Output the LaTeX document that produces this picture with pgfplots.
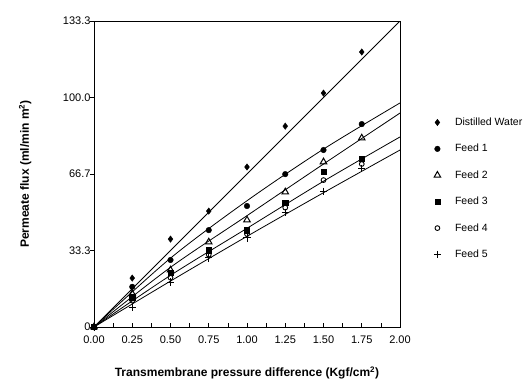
\documentclass[border=0pt]{standalone}
\usepackage{fontspec}
\setmainfont{Liberation Sans}
\usepackage{pgfplots}
\pgfplotsset{compat=1.18}
\begin{document}
\begin{tikzpicture}
\useasboundingbox (-94pt,-54pt) rectangle (438pt,327pt);
\begin{axis}[
  at={(0pt,0pt)}, anchor=south west,
  scale only axis, width=306pt, height=306pt,
  xmin=0, xmax=2, ymin=0, ymax=133.3,
  xtick={0,0.25,0.5,0.75,1,1.25,1.5,1.75,2},
  xticklabels={0.00,0.25,0.50,0.75,1.00,1.25,1.50,1.75,2.00},
  ytick={0,33.3,66.7,100,133.3},
  yticklabels={0,33.3,66.7,100.0,133.3},
  minor x tick num=1, minor y tick num=1,
  xtick pos=bottom, ytick pos=left,
  tick align=inside,
  major tick length=4pt, minor tick length=4pt,
  ytick style={xshift=-4pt, black, line width=0.6pt},
  xtick style={black, line width=0.6pt},
  axis line style={line width=0.8pt},
  /pgf/number format/assume math mode=true,
  tick label style={font=\fontsize{11}{13}\selectfont},
  xticklabel style={yshift=-5pt},
  xlabel={\bfseries Transmembrane pressure difference (Kgf/cm$^{\mathbf{2}}$)},
  ylabel={\bfseries Permeate flux (ml/min m$^{\mathbf{2}}$)},
  xlabel style={font=\fontsize{12}{14}\selectfont\bfseries, at={(0.5,-0.15)}, anchor=center},
  ylabel style={font=\fontsize{12}{14}\selectfont\bfseries, at={(-0.225,0.5)}, anchor=center},
  legend style={at={(1.100,0.697)}, anchor=north west, draw=none, fill=none,
    font=\fontsize{10.5}{13}\selectfont, row sep=13.3pt, column sep=12pt},
  legend cell align=left,
]
% fitted lines
\addplot[black, line width=0.8pt, forget plot] coordinates {(0,0) (2,133.3)};
\addplot[black, line width=0.8pt, smooth, forget plot] coordinates {(0,0) (0.5,30) (1,55) (1.5,77.5) (2,97.6)};
\addplot[black, line width=0.8pt, smooth, forget plot] coordinates {(0,0) (0.5,26) (1,48.5) (1.5,71) (2,93.2)};
\addplot[black, line width=0.8pt, smooth, forget plot] coordinates {(0,0) (0.5,22.5) (1,43) (1.5,63.5) (2,82.8)};
\addplot[black, line width=0.8pt, smooth, forget plot] coordinates {(0,0) (0.5,20) (1,39.5) (1.5,58.5) (2,77.1)};
% data points
\addplot[only marks, mark=diamond*, mark size=3.2pt, black] coordinates {
 (0,0) (0.25,21.3) (0.5,38.3) (0.75,50.5) (1,69.7) (1.25,87.5) (1.5,101.9) (1.75,119.8)};
\addlegendentry{Distilled Water}
\addplot[only marks, mark=*, mark size=2.8pt, black] coordinates {
 (0,0) (0.25,17.5) (0.5,29.2) (0.75,42.2) (1,52.7) (1.25,66.6) (1.5,77.1) (1.75,88.4)};
\addlegendentry{Feed 1}
\addplot[only marks, mark=triangle, mark size=3.8pt, black, mark options={line width=1pt}] coordinates {
 (0,0) (0.25,14.5) (0.5,24.8) (0.75,37.0) (1,46.6) (1.25,58.8) (1.5,71.9) (1.75,82.3)};
\addlegendentry{Feed 2}
\addplot[only marks, mark=square*, mark size=2.6pt, black] coordinates {
 (0,0) (0.25,13.0) (0.5,23.5) (0.75,33.5) (1,42.2) (1.25,54.0) (1.5,67.5) (1.75,73.2)};
\addlegendentry{Feed 3}
\addplot[only marks, mark=o, mark size=2.4pt, black, mark options={line width=0.9pt}] coordinates {
 (0,0) (0.25,11.5) (0.5,21.5) (0.75,31.5) (1,40.5) (1.25,52.0) (1.5,64.0) (1.75,71.0)};
\addlegendentry{Feed 4}
\addplot[only marks, mark=+, mark size=3.6pt, black, mark options={line width=0.9pt}] coordinates {
 (0,0) (0.25,8.7) (0.5,19.6) (0.75,30.1) (1,38.8) (1.25,49.9) (1.5,59.2) (1.75,69.2)};
\addlegendentry{Feed 5}
\end{axis}
\end{tikzpicture}
\end{document}
